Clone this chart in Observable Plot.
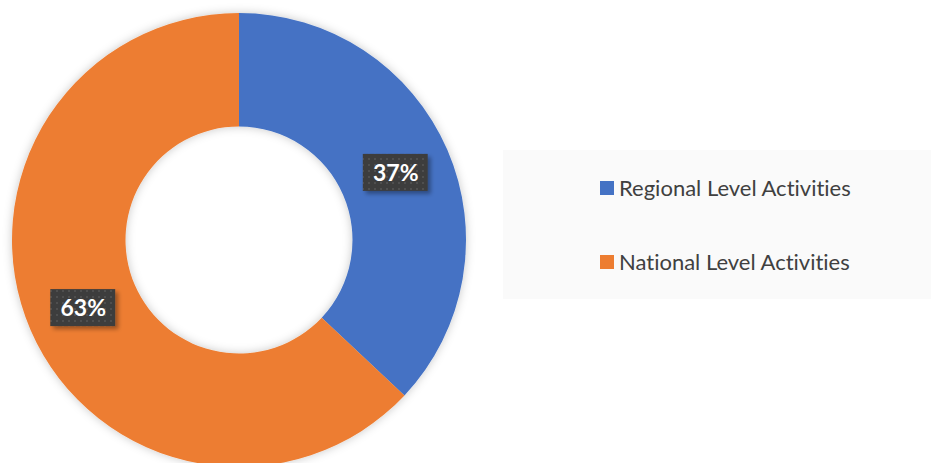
<!DOCTYPE html>
<html>
<head>
<meta charset="utf-8">
<script src="https://cdn.jsdelivr.net/npm/d3@7"></script>
<script src="https://cdn.jsdelivr.net/npm/@observablehq/plot@0.6"></script>
<style>
  html, body { margin: 0; padding: 0; background: #fff; }
  #wrap { position: relative; width: 931px; height: 463px; overflow: hidden; }
  #legend { position: absolute; left: 503px; top: 150px; width: 428px; height: 149px; background: #fafafa; font-family: Lato, "Open Sans", sans-serif; font-size: 22px; color: #404040; font-variant-ligatures: none; font-feature-settings: "liga" 0; }
  .item { position: absolute; left: 97px; display: flex; align-items: center; white-space: nowrap; }
  .sw { width: 14px; height: 14px; margin-right: 5px; }
</style>
</head>
<body>
<div id="wrap"></div>
<script>
const categories = ["Regional Level Activities", "National Level Activities"];
const values = [37, 63];
const colors = ["#4472C4", "#ED7D31"];
const labels = ["37%", "63%"];

const innerFrac = 0.5;
const pie = d3.pie().sort(null).value(d => d.value);
const data = categories.map((c, i) => ({category: c, value: values[i], color: colors[i], label: labels[i]}));
const arcs = pie(data);
const midR = (innerFrac + 1) / 2;
const labelData = arcs.map(a => {
  const m = (a.startAngle + a.endAngle) / 2;
  return {label: a.data.label, x: midR * Math.sin(m), y: midR * Math.cos(m)};
});
const bw = 0.143, bh = 0.0815;

const defsMark = () => {
  const g = d3.create("svg:g");
  const defs = g.append("defs");
  const p = defs.append("pattern").attr("id", "dots").attr("patternUnits", "userSpaceOnUse")
    .attr("width", 6).attr("height", 6);
  p.append("rect").attr("width", 6).attr("height", 6).attr("fill", "#3c3c3c");
  p.append("rect").attr("x", 2).attr("y", 2).attr("width", 2).attr("height", 2).attr("fill", "#4f4f4f");
  const f = defs.append("filter").attr("id", "ring").attr("x", "-20%").attr("y", "-20%").attr("width", "140%").attr("height", "140%");
  f.append("feDropShadow").attr("dx", 0).attr("dy", 0).attr("stdDeviation", 5).attr("flood-color", "#000").attr("flood-opacity", 0.22);
  const f2 = defs.append("filter").attr("id", "box").attr("x", "-30%").attr("y", "-30%").attr("width", "160%").attr("height", "160%");
  f2.append("feDropShadow").attr("dx", 3).attr("dy", 3).attr("stdDeviation", 2).attr("flood-color", "#000").attr("flood-opacity", 0.35);
  return g.node();
};

const donutMark = (index, scales) => {
  const cx = scales.x(0), cy = scales.y(0);
  const R = scales.x(1) - scales.x(0);
  const arc = d3.arc().outerRadius(R).innerRadius(R * innerFrac);
  const g = d3.create("svg:g").attr("transform", `translate(${cx},${cy})`).attr("filter", "url(#ring)");
  g.selectAll("path").data(arcs).join("path").attr("d", arc).attr("fill", d => d.data.color);
  return g.node();
};

const chart = Plot.plot({
  width: 931,
  height: 463,
  margin: 0,
  className: "pl",
  x: {domain: [-1, 1], range: [12, 466], axis: null},
  y: {domain: [-1, 1], range: [467, 13], axis: null},
  marks: [
    defsMark,
    donutMark,
    Plot.rect(labelData, {x1: d => d.x - bw, x2: d => d.x + bw, y1: d => d.y - bh, y2: d => d.y + bh, fill: "#3c3c3c", className: "lblbox"}),
    Plot.text(labelData, {x: "x", y: "y", text: "label", fill: "white", fontSize: 23, fontWeight: "bold", fontFamily: "Lato, 'Open Sans', sans-serif", dy: 1})
  ]
});
chart.style.position = "absolute";
chart.style.left = "0px";
chart.style.top = "0px";
const wrap = document.getElementById("wrap");
wrap.appendChild(chart);
d3.select(chart).selectAll(".lblbox").attr("filter", "url(#box)");
d3.select(chart).selectAll(".lblbox rect").attr("fill", "url(#dots)");

const legend = document.createElement("div");
legend.id = "legend";
const tops = [24, 98];
data.forEach((d, i) => {
  const it = document.createElement("div");
  it.className = "item";
  it.style.top = tops[i] + "px";
  const sw = document.createElement("span");
  sw.className = "sw";
  sw.style.background = d.color;
  const tx = document.createElement("span");
  tx.textContent = d.category;
  it.appendChild(sw); it.appendChild(tx);
  legend.appendChild(it);
});
wrap.appendChild(legend);
</script>
</body>
</html>
